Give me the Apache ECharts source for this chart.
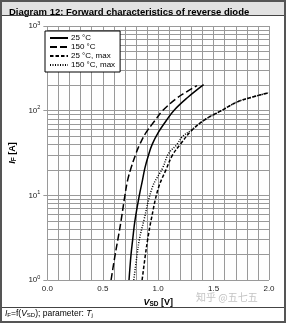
<!DOCTYPE html>
<html><head><meta charset="utf-8">
<script src="https://cdn.jsdelivr.net/npm/echarts@6/dist/echarts.min.js"></script>
<style>html,body{margin:0;padding:0;background:#fff}#c{width:288px;height:325px}</style>
</head><body><div id="c"></div>
<script>
// ---- data ----
const seriesNames = ['25 °C', '150 °C', '25 °C, max', '150 °C, max'];
const typ25 = [[0.737,1],[0.755,2],[0.77,3],[0.79,5],[0.83,10],[0.858,15],[0.88,21],[0.913,30],[0.946,40],[1.0,55],[1.069,75],[1.14,100],[1.26,141],[1.41,203]];
const typ150 = [[0.575,1],[0.612,2],[0.64,3.2],[0.665,5],[0.70,10],[0.724,15],[0.755,21],[0.795,30],[0.834,40],[0.89,55],[0.966,75],[1.04,100],[1.17,141],[1.25,165],[1.35,198]];
const max25 = [[0.855,1],[0.885,2],[0.905,3],[0.935,5],[1.0,12],[1.07,20],[1.13,30],[1.2,40],[1.3,58],[1.42,78],[1.57,100],[1.715,127],[1.86,146],[2.0,163]];
const max150 = [[0.78,1],[0.81,2],[0.83,3],[0.87,5],[0.95,12.7],[1.04,21],[1.093,31],[1.17,40],[1.216,49],[1.30,59],[1.42,78],[1.57,100],[1.715,127],[1.86,146],[2.0,163]];
const xTickLabels = ['0.0','0.5','1.0','1.5','2.0'];
const yDecadeExps = [0,1,2,3];
const yMinorGrid = [2,3,4,5,6,7,8,9,20,30,40,50,60,70,80,90,200,300,400,500,600,700,800,900];
const titleText = 'Diagram 12: Forward characteristics of reverse diode';

const FONT = 'Liberation Sans, Arial, sans-serif';
const gridColor = '#9a9a9a';
const chart = echarts.init(document.getElementById('c'), null, {renderer:'canvas'});

function mk(name, data, dash, first){
  const s = {name, type:'line', data, symbol:'none', smooth:0.4, z:5,
    color:'#000', itemStyle:{color:'#000'},
    lineStyle:{color:'#000', width:1.5, type:dash}};
  if(first){
    s.markLine = {silent:true, symbol:['none','none'], label:{show:false}, z:1,
      lineStyle:{color:gridColor, width:1, type:'solid'},
      emphasis:{disabled:true},
      data: yMinorGrid.map(v=>({yAxis:v}))};
  }
  return s;
}

chart.setOption({
  animation:false,
  backgroundColor:'#fff',
  textStyle:{fontFamily:FONT},
  title:{text:titleText, left:4, top:2, textStyle:{fontSize:9.5, fontWeight:'bold', color:'#000', fontFamily:FONT}},
  legend:{left:45, top:31, orient:'vertical', itemWidth:18, itemHeight:8, itemGap:1,
    backgroundColor:'#fff', borderColor:'#000', borderWidth:1, padding:[3,5,3,4],
    itemStyle:{opacity:0},
    textStyle:{fontSize:8, color:'#000', padding:[0,0,0,-2]}, data:seriesNames},
  grid:{left:42, right:19, top:26, bottom:45},
  xAxis:{type:'value', min:0, max:2, interval:0.5,
    axisLine:{show:false}, axisTick:{show:false},
    axisLabel:{fontSize:8, color:'#222', margin:5, formatter:(v)=>xTickLabels[Math.round(v/0.5)]},
    splitLine:{show:true, lineStyle:{color:gridColor, width:1}},
    minorTick:{show:false, splitNumber:5},
    minorSplitLine:{show:true, lineStyle:{color:gridColor, width:1}},
    name:'{v|V}{s|SD}{u| [V]}', nameLocation:'middle', nameGap:16,
    nameTextStyle:{rich:{v:{fontSize:9, fontWeight:'bold', fontStyle:'italic', color:'#000'},
      s:{fontSize:6.5, fontWeight:'bold', color:'#000', padding:[3,0,0,0]},
      u:{fontSize:9, fontWeight:'bold', color:'#000'}}}
  },
  yAxis:{type:'log', logBase:10, min:1, max:1000,
    axisLine:{show:false}, axisTick:{show:true, length:4, lineStyle:{color:gridColor}},
    axisLabel:{margin:7, formatter:(v)=>{const e=yDecadeExps[Math.round(Math.log10(v))]; return '{b|10}{s|'+e+'}';},
      rich:{b:{fontSize:8, color:'#222'}, s:{fontSize:5.5, color:'#222', padding:[0,0,6,0]}}},
    splitLine:{show:true, lineStyle:{color:gridColor, width:1}},
    name:'{i|I}{s|F}{u| [A]}', nameLocation:'middle', nameGap:28, nameRotate:90,
    nameTextStyle:{rich:{i:{fontSize:9, fontWeight:'bold', fontStyle:'italic', color:'#000'},
      s:{fontSize:6.5, fontWeight:'bold', color:'#000', padding:[3,0,0,0]},
      u:{fontSize:9, fontWeight:'bold', color:'#000'}}}
  },
  series:[
    mk(seriesNames[0], typ25, 'solid', true),
    mk(seriesNames[1], typ150, [7,3], false),
    mk(seriesNames[2], max25, [3.5,2], false),
    mk(seriesNames[3], max150, [1,1.5], false)
  ],
  graphic:[
    {type:'rect', z:-10, shape:{x:1, y:1, width:284, height:14}, style:{fill:'#e2e2e2'}},
    {type:'line', z:10, shape:{x1:1, y1:15.5, x2:285, y2:15.5}, style:{stroke:'#444', lineWidth:1}},
    {type:'line', z:10, shape:{x1:1, y1:307.5, x2:285, y2:307.5}, style:{stroke:'#444', lineWidth:1}},
    {type:'rect', z:10, shape:{x:1, y:1, width:284, height:321}, style:{fill:null, stroke:'#555', lineWidth:2}},
    {type:'text', z:10, left:5, top:309, style:{text:'{i|I}{s|F}{n|=f(}{i|V}{s|SD}{n|); parameter: }{i|T}{s|j}', rich:{
      i:{fontSize:8.5, fontStyle:'italic', fill:'#000', fontFamily:FONT},
      n:{fontSize:8.5, fill:'#000', fontFamily:FONT},
      s:{fontSize:6, fill:'#000', fontFamily:FONT, padding:[3,0,0,0]}}}},
    {type:'text', z:10, left:196, top:292, style:{text:'知乎 @五七五', fontSize:10, fill:'#c4c4c4', fontFamily:'Noto Sans CJK SC'}}
  ]
});
</script></body></html>
